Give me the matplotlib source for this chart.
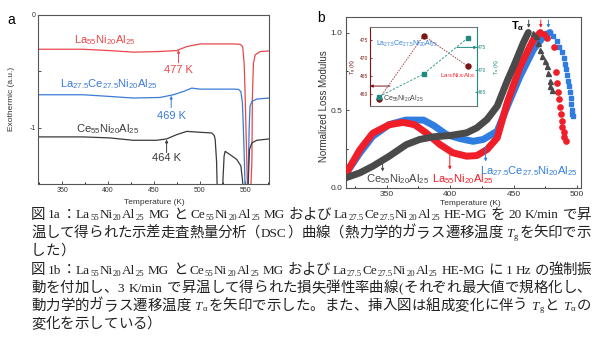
import re

import matplotlib
matplotlib.use('Agg')

import matplotlib.pyplot as plt
from matplotlib.ticker import MultipleLocator

# ---- dados -----------------------------------------------------------------
# (a) DSC: temperatura (K) e fluxo de calor (a.u.)
dsc_la_T = [324, 373, 402, 427.6, 453, 475, 486, 500.5, 537, 544.2, 547, 548.6,
            549.7, 551.5, 553.5, 557, 557.6, 558.7, 560.6, 566, 576]
dsc_la_v = [-0.304, -0.304, -0.316, -0.33, -0.325, -0.316, -0.28, -0.257, -0.257,
            -0.26, -0.28, -0.43, -0.72, -1.31, -2.0, -1.31, -0.72, -0.43, -0.354,
            -0.325, -0.319]
dsc_lace_T = [324, 373, 402, 427.6, 456.8, 471.3, 482.3, 491.4, 500.5, 537, 542.4,
              545, 546.7, 547.8, 548.9, 551, 553.3, 554, 555, 557, 562.5, 576]
dsc_lace_v = [-0.708, -0.708, -0.723, -0.737, -0.732, -0.708, -0.679, -0.649,
              -0.658, -0.658, -0.66, -0.68, -0.78, -1.02, -1.31, -2.0, -1.31,
              -1.02, -0.81, -0.767, -0.746, -0.737]
dsc_ce_T = [324, 373, 402, 427.6, 453, 464, 475, 486, 500.5, 513.3, 516, 517,
            518.5, 520.5, 523, 525.3, 526.7, 527.8, 533.3, 540.6, 545, 546.7, 548,
            550.5, 553, 554.4, 557, 562.5, 576]
dsc_ce_v = [-1.082, -1.082, -1.091, -1.112, -1.112, -1.1, -1.062, -1.033, -1.041,
            -1.047, -1.07, -1.106, -1.3, -2.0, -2.0, -1.49, -1.254, -1.21, -1.24,
            -1.283, -1.34, -1.46, -1.6, -2.0, -1.5, -1.195, -1.135, -1.112, -1.1]
tg_vals = [477, 469, 464]          # La55, La27.5Ce27.5, Ce55

# (b) módulo de perda normalizado — parte densa + cauda esparsa
lm_la_T = [318, 329, 339, 352, 363, 372, 381, 392, 402, 413, 421, 429, 437, 445,
           455, 465.5, 471]
lm_la_v = [0.09, 0.245, 0.35, 0.405, 0.42, 0.405, 0.353, 0.277, 0.224, 0.202,
           0.206, 0.245, 0.32, 0.55, 0.78, 0.955, 1.0]
lm_la_tail_T = [473.5, 476.0, 482.0, 483.4, 484.4, 485.2, 486.0, 486.5, 487.1,
                487.9, 488.4, 489.2, 489.9, 491.0]
lm_la_tail_v = [0.99, 0.966, 0.908, 0.747, 0.676, 0.615, 0.568, 0.518, 0.476,
                0.432, 0.392, 0.357, 0.328, 0.299]

lm_lace_T = [318, 329, 339, 352, 365, 379, 387, 397, 408, 418, 426, 437, 445, 455,
             465.5, 473.5, 478.6]
lm_lace_v = [0.09, 0.224, 0.33, 0.406, 0.435, 0.435, 0.40, 0.342, 0.315, 0.298,
             0.31, 0.363, 0.525, 0.718, 0.89, 0.976, 1.0]
lm_lace_tail_T = [481.3, 484, 486, 487.9, 489.2, 490.5, 491.3, 492.3, 493.1, 493.6,
                  494.4, 495, 495.2, 495.8, 495.8, 496.3]
lm_lace_tail_v = [0.98, 0.944, 0.905, 0.873, 0.837, 0.80, 0.766, 0.729, 0.69,
                  0.654, 0.615, 0.579, 0.54, 0.503, 0.477, 0.46]

lm_ce_T = [318, 329, 339, 352, 365.5, 376, 386.6, 399.7, 413, 421, 429, 437, 445,
           450, 457.6, 461.5]
lm_ce_v = [0.063, 0.095, 0.137, 0.202, 0.277, 0.31, 0.327, 0.335, 0.353, 0.385,
           0.439, 0.525, 0.69, 0.783, 0.934, 1.0]
lm_ce_tail_T = [465.5, 467.6, 469.4, 470.8, 472.1, 474.7, 476, 477.3, 478.6,
                478.6, 480]
lm_ce_tail_v = [0.998, 0.976, 0.934, 0.89, 0.847, 0.815, 0.783, 0.74, 0.686,
                0.654, 0.632]
ta_vals = [471.3, 477.3, 461.8]    # La55, La27.5Ce27.5, Ce55 (setas)

# inset: Tg e Tα por composição
inset_comp = ['Ce55', 'La27.5Ce27.5', 'La55']
inset_tg = [458.7, 476.2, 467.7]
inset_ta = [463.9, 469.0, 477.2]

# legenda em japonês: _{..} = subscrito, *..* = itálico
caption = [
    "図 1a：La_{55}Ni_{20}Al_{25} MG と Ce_{55}Ni_{20}Al_{25} MG および "
    "La_{27.5}Ce_{27.5}Ni_{20}Al_{25} HE-MG を 20 K/min で昇",
    "温して得られた示差走査熱量分析（DSC）曲線（熱力学的ガラス遷移温度 *T*_{g}を矢印で示",
    "した）",
    "図 1b：La_{55}Ni_{20}Al_{25} MG と Ce_{55}Ni_{20}Al_{25} MG および "
    "La_{27.5}Ce_{27.5}Ni_{20}Al_{25} HE-MG に 1 Hz の強制振",
    "動を付加し、3 K/min で昇温して得られた損失弾性率曲線(それぞれ最大値で規格化し、",
    "動力学的ガラス遷移温度 *T*_{α}を矢印で示した。また、挿入図は組成変化に伴う *T*_{g}と *T*_{α}の",
    "変化を示している）",
]
caption_justify = [True, True, False, True, True, True, False]

# ---- estilo -----------------------------------------------------------------
RED_A, BLUE_A, BLK_A = '#e8474b', '#3a7bd5', '#3a3a3a'
RED_B, BLUE_B, BLK_B = '#f01e28', '#2f7de1', '#4a4a4a'
DKRED, TEAL = '#7a1616', '#1f8a80'
SPINE = '#555555'

plt.rcParams.update({
    'font.family': ['Liberation Sans', 'DejaVu Sans'],
    'mathtext.default': 'regular',
    'axes.linewidth': 0.8,
    'axes.edgecolor': SPINE,
    'xtick.direction': 'in',
    'ytick.direction': 'in',
    'xtick.major.size': 2.5,
    'ytick.major.size': 2.5,
    'xtick.minor.size': 1.5,
    'ytick.minor.size': 1.5,
    'xtick.major.width': 0.6,
    'ytick.major.width': 0.6,
    'xtick.minor.width': 0.6,
    'ytick.minor.width': 0.6,
})

LA = 'La$_{55}$Ni$_{20}$Al$_{25}$'
CE = 'Ce$_{55}$Ni$_{20}$Al$_{25}$'
LACE = 'La$_{27.5}$Ce$_{27.5}$Ni$_{20}$Al$_{25}$'

fig = plt.figure(figsize=(6, 3.52), dpi=100)

# ---- (a) DSC ----------------------------------------------------------------
ax_a = fig.add_axes([0.0638, 0.4773, 0.385, 0.4801])
ax_a.plot(dsc_la_T, dsc_la_v, color=RED_A, lw=0.9)
ax_a.plot(dsc_lace_T, dsc_lace_v, color=BLUE_A, lw=0.9)
ax_a.plot(dsc_ce_T, dsc_ce_v, color=BLK_A, lw=0.9)
ax_a.set_xlim(324, 576)
ax_a.set_ylim(-1.5, 0)
ax_a.xaxis.set_major_locator(MultipleLocator(50))
ax_a.xaxis.set_minor_locator(MultipleLocator(25))
ax_a.set_yticks([-1, -0.5, 0])
ax_a.set_yticklabels(['-1', '', '0'])
ax_a.tick_params(labelsize=5, pad=2, colors='#333333')

ax_a.text(362.8, -0.25, LA, color=RED_A, fontsize=8, va='baseline')
ax_a.text(347.5, -0.64, LACE, color=BLUE_A, fontsize=8, va='baseline')
ax_a.text(365, -1.038, CE, color=BLK_A, fontsize=8, va='baseline')

for tg, col, y_head, y_tail, y_lab in zip(
        tg_vals, [RED_A, BLUE_A, BLK_A],
        [-0.31, -0.717, -1.106], [-0.425, -0.823, -1.221], [-0.516, -0.92, -1.30]):
    ax_a.annotate('', xy=(tg, y_head), xytext=(tg, y_tail),
                  arrowprops=dict(arrowstyle='-|>', color=col, lw=0.7,
                                  mutation_scale=4, shrinkA=0, shrinkB=0))
    ax_a.text(tg, y_lab, f'{tg} K', color=col, fontsize=8, ha='center',
              va='baseline')

fig.text(12 / 600, 1 - 99 / 352, 'Exothermic (a.u.)', rotation=90, fontsize=6,
         ha='center', va='center', color='#333333')
fig.text(154 / 600, 1 - 203 / 352, 'Temperature (K)', fontsize=6, ha='center',
         va='center', color='#333333')
fig.text(11.5 / 600, 1 - 20 / 352, 'a', fontsize=10, ha='center', va='center')

# ---- (b) módulo de perda ----------------------------------------------------
ax_b = fig.add_axes([0.5767, 0.4673, 0.3917, 0.4844])
ax_b.plot(lm_lace_T, lm_lace_v, color=BLUE_B, lw=5, solid_capstyle='round',
          zorder=2)
ax_b.plot(lm_lace_tail_T, lm_lace_tail_v, ls='none', marker='s', ms=3.4,
          color=BLUE_B, zorder=2)
ax_b.plot(lm_la_T, lm_la_v, color=RED_B, lw=5, solid_capstyle='round', zorder=3)
ax_b.plot(lm_la_tail_T, lm_la_tail_v, ls='none', marker='o', ms=3.8,
          color=RED_B, zorder=3)
ax_b.plot(lm_ce_T, lm_ce_v, color=BLK_B, lw=5, solid_capstyle='round', zorder=4)
ax_b.plot(lm_ce_tail_T, lm_ce_tail_v, ls='none', marker='^', ms=3.6,
          color=BLK_B, zorder=4)
ax_b.set_xlim(318, 503)
ax_b.set_ylim(0, 1.10)
ax_b.xaxis.set_major_locator(MultipleLocator(50))
ax_b.xaxis.set_minor_locator(MultipleLocator(25))
ax_b.set_yticks([0, 0.5, 1.0])
ax_b.set_yticklabels(['0.0', '0.5', '1.0'])
ax_b.yaxis.set_minor_locator(MultipleLocator(0.25))
ax_b.tick_params(labelsize=6, pad=2.5, colors='#333333')

for ta, col in zip(ta_vals, [RED_B, BLUE_B, BLK_B]):
    ax_b.annotate('', xy=(ta, 1.03), xytext=(ta, 1.08),
                  arrowprops=dict(arrowstyle='-|>', color=col, lw=0.7,
                                  mutation_scale=4, shrinkA=0, shrinkB=0))
ax_b.text(447.9, 1.023, 'T$_{α}$', fontsize=8, fontweight='bold', va='baseline')

ax_b.text(334, 0.034, CE, color='#444444', fontsize=8, va='baseline', zorder=6)
ax_b.text(385.3, 0.034, LA, color=RED_B, fontsize=8, va='baseline', zorder=6)
ax_b.text(423.4, 0.088, LACE, color=BLUE_B, fontsize=8, va='baseline', zorder=6)
for x, col, y0, y1 in [(346.8, BLK_B, 0.187, 0.103), (399.7, RED_B, 0.213, 0.116),
                       (427.9, BLUE_B, 0.265, 0.168)]:
    ax_b.annotate('', xy=(x, y1), xytext=(x, y0),
                  arrowprops=dict(arrowstyle='-|>', color=col, lw=0.7,
                                  mutation_scale=4, shrinkA=0, shrinkB=0))

fig.text(324 / 600, 1 - 106.5 / 352, 'Normalized Loss Modulus', rotation=90,
         fontsize=7, ha='center', va='center', color='#333333')
fig.text(470.8 / 600, 1 - 203.3 / 352, 'Temperature (K)', fontsize=6,
         ha='center', va='center', color='#333333')
fig.text(320.5 / 600, 1 - 18 / 352, 'b', fontsize=10, ha='center', va='center')

# ---- inset Tg / Tα ------------------------------------------------------------
ax_in = fig.add_axes([0.6167, 0.6989, 0.1783, 0.2244])
ax_in.set_facecolor('white')
ax_in2 = ax_in.twinx()
xs = list(range(len(inset_comp)))
ax_in.plot(xs, inset_tg, ls=(0, (1.5, 1.2)), lw=0.7, color='#a04848', zorder=1)
ax_in.plot(xs, inset_tg, ls='none', marker='o', ms=3.6, color=DKRED, zorder=2)
ax_in2.plot(xs, inset_ta, ls=(0, (2.5, 1.5)), lw=0.7, color='#3aa096', zorder=1)
ax_in2.plot(xs, inset_ta, ls='none', marker='s', ms=3.4, color=TEAL, zorder=2)
ax_in.set_xlim(-0.2, 2.2)
ax_in.set_ylim(456.8, 478.6)
ax_in2.set_ylim(461.8, 479.6)
ax_in.set_xticks([])
ax_in.set_yticks([460, 465, 470, 475])
ax_in2.set_yticks([465, 470, 475])
ax_in.tick_params(axis='y', labelsize=3.5, pad=1, colors=DKRED, length=1.5)
ax_in2.tick_params(axis='y', labelsize=3.5, pad=1, colors=TEAL, length=1.5)
ax_in.spines['left'].set_color(DKRED)
ax_in.spines['right'].set_visible(False)
for s in ['top', 'bottom']:
    ax_in.spines[s].set_color('#777777')
    ax_in2.spines[s].set_visible(False)
ax_in2.spines['left'].set_visible(False)
ax_in2.spines['right'].set_color(TEAL)
ax_in.set_ylabel('T$_{g}$ (K)', fontsize=4, color=DKRED, labelpad=1)
ax_in2.set_ylabel('T$_{α}$ (K)', fontsize=4, color=TEAL, labelpad=3.5, rotation=90)

ax_in.annotate('', xy=(-0.2, 462.3), xytext=(0.25, 462.3),
               arrowprops=dict(arrowstyle='-|>', color=DKRED, lw=0.7,
                               mutation_scale=4, shrinkA=0, shrinkB=0))
ax_in2.annotate('', xy=(2.2, 475.0), xytext=(1.75, 475.0),
                arrowprops=dict(arrowstyle='-|>', color=TEAL, lw=0.7,
                                mutation_scale=4, shrinkA=0, shrinkB=0))
ax_in.text(-0.065, 473.9, LACE, color=BLUE_B, fontsize=5.0, va='center', zorder=5)
ax_in.text(1.38, 465.3, LA, color=RED_B, fontsize=4.6, va='center', zorder=5)
ax_in.text(0.09, 458.7, CE, color='#444444', fontsize=5.0, va='center', zorder=5)

# ---- legenda: composição tipo japonês (caractere largo = 1 em, justificado) ----
CAP_FAMILY = ['Liberation Serif', 'Noto Sans CJK JP']
CAP_SIZE = 10.4      # caracteres largos
LAT_SIZE = 9.5       # letras latinas
CAP_COR = '#222222'
_TOKEN = re.compile(r'_\{([^}]*)\}|\*([^*]+)\*|([^_*]+)')


def linha_rica(renderer, x0, x1, base_px, markup, justificar):
    """Escreve uma linha com subscritos/itálico; mede e posiciona em pixels."""
    em = CAP_SIZE * fig.dpi / 72
    pecas = []   # (artista ou None, largura px, modo)

    def latino(s, fs, dy=0.0, **kw):
        t = fig.text(0, 1 - (base_px + dy) / 352, s, fontsize=fs, va='baseline',
                     ha='left', color=CAP_COR, **kw)
        pecas.append((t, t.get_window_extent(renderer).width + 0.06 * em, 'left'))

    for sub, ital, plain in _TOKEN.findall(markup):
        if sub:
            latino(sub, CAP_SIZE * 0.6, dy=0.12 * em, family=CAP_FAMILY)
        elif ital:
            latino(ital, LAT_SIZE, family='Liberation Serif', style='italic')
        else:
            buf = ''
            for c in plain + '\0':
                if c in ' \0' or ord(c) >= 0x2E80:
                    if buf:
                        latino(buf, LAT_SIZE, family=CAP_FAMILY)
                        buf = ''
                    if c == ' ':
                        pecas.append((None, 0.25 * em, None))
                    elif c != '\0':
                        t = fig.text(0, 1 - base_px / 352, c, fontsize=CAP_SIZE,
                                     va='baseline', ha='center', color=CAP_COR,
                                     family=CAP_FAMILY)
                        pecas.append((t, em, 'center'))
                else:
                    buf += c

    natural = sum(w for _, w, _ in pecas)
    extra = (x1 - x0 - natural) / (len(pecas) - 1) if justificar else 0.0
    x = x0
    for t, w, modo in pecas:
        if t is not None:
            t.set_x((x + w / 2 if modo == 'center' else x) / 600)
        x += w + extra


renderer = fig.canvas.get_renderer()
bases = [218.5, 236.8, 254.5, 274.3, 292, 309.7, 328]
for base, linha, just in zip(bases, caption, caption_justify):
    linha_rica(renderer, 31, 591, base, linha, just)

fig.savefig('out.png', dpi=100)
